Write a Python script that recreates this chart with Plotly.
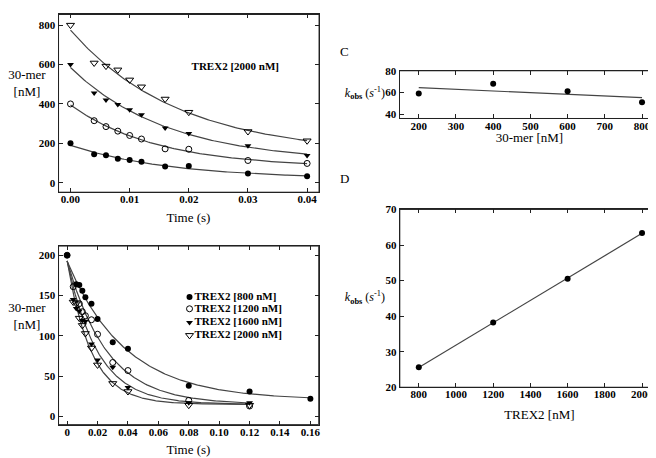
import numpy as np
import plotly.graph_objects as go

W, H = 656, 458

# ---------------- Data ----------------
# Panel A: TREX2 2000 nM, different 30-mer concentrations
timeA = [0.0, 0.004, 0.006, 0.008, 0.010, 0.012, 0.016, 0.020, 0.030, 0.040]
a200 = [200, 145, 140, 122, 115, 107, 83, 85, 47, 33]
a400 = [400, 315, 285, 262, 240, 222, 172, 170, 113, 98]
a600 = [600, 455, 420, 397, 370, 345, 278, 250, 188, 138]
a800 = [800, 608, 592, 573, 522, 487, 425, 358, 260, 213]
# single-exponential fit parameters (amplitude, rate, offset)
fitA_amp = [171, 319, 482, 631]
fitA_k = [59, 68, 61, 55]
fitA_off = [19, 76, 103, 144]

# Panel B: 200 nM 30-mer, different TREX2 concentrations
tB800 = [0.0, 0.006, 0.008, 0.010, 0.012, 0.016, 0.020, 0.030, 0.040, 0.080, 0.120, 0.160]
b800 = [200, 164, 163, 156, 148, 140, 121, 92, 84, 38, 31, 22]
tB1200 = [0.0, 0.004, 0.008, 0.010, 0.012, 0.016, 0.020, 0.030, 0.040, 0.080, 0.120]
b1200 = [200, 161, 140, 130, 125, 120, 102, 67, 57, 20, 13]
tB1600 = [0.004, 0.006, 0.008, 0.010, 0.012, 0.016, 0.020, 0.030, 0.040, 0.080, 0.120]
b1600 = [145, 134, 131, 119, 118, 90, 70, 61, 36, 17, 17]
tB2000 = [0.004, 0.006, 0.008, 0.010, 0.012, 0.016, 0.020, 0.030, 0.040, 0.080, 0.120]
b2000 = [142, 140, 122, 113, 103, 85, 64, 41, 31, 14, 14]
fitB_amp = [172, 178, 178, 178]
fitB_k = [26, 38, 50, 63]
fitB_off = [20.5, 15, 15, 15]
fitB_tmax = [0.16, 0.12, 0.12, 0.12]
legendB = ["TREX2 [800 nM]", "TREX2 [1200 nM]", "TREX2 [1600 nM]", "TREX2 [2000 nM]"]

# Panel C: kobs vs 30-mer
substrateC = [200, 400, 600, 800]
kobsC = [59, 68, 61, 51]

# Panel D: kobs vs TREX2
enzymeD = [800, 1200, 1600, 2000]
kobsD = [25.6, 38.2, 50.5, 63.4]

# tick labels
xA_ticks = [0.0, 0.01, 0.02, 0.03, 0.04]
xA_text = ["0.00", "0.01", "0.02", "0.03", "0.04"]
xB_ticks = [0, 0.02, 0.04, 0.06, 0.08, 0.10, 0.12, 0.14, 0.16]
xB_text = ["0", "0.02", "0.04", "0.06", "0.08", "0.10", "0.12", "0.14", "0.16"]

# ---------------- Styling ----------------
SER = "Liberation Serif"
LINE = "#444444"
FRAME = "#222222"

def px2x(px):
    return px / W

def px2y(py):
    return 1 - py / H

markers = [
    dict(symbol="circle", color="black", size=6),
    dict(symbol="circle-open", color="black", size=6),
    dict(symbol="triangle-down", color="black", size=6),
    dict(symbol="triangle-down-open", color="black", size=7),
]

fig = go.Figure()

# Panel A
seriesA = [a200, a400, a600, a800]
for i, ys in enumerate(seriesA):
    tt = [0.04 * j / 119 for j in range(120)]
    yy = [fitA_amp[i] * float(np.exp(-fitA_k[i] * t)) + fitA_off[i] for t in tt]
    fig.add_trace(go.Scatter(x=tt, y=yy, mode="lines", line=dict(color=LINE, width=1.2),
                             xaxis="x", yaxis="y", showlegend=False))
    fig.add_trace(go.Scatter(x=timeA, y=ys, mode="markers", marker=markers[i],
                             xaxis="x", yaxis="y", showlegend=False))

# Panel B
tBs = [tB800, tB1200, tB1600, tB2000]
bs = [b800, b1200, b1600, b2000]
for i in range(4):
    tt = [fitB_tmax[i] * j / 199 for j in range(200)]
    yy = [fitB_amp[i] * float(np.exp(-fitB_k[i] * t)) + fitB_off[i] for t in tt]
    fig.add_trace(go.Scatter(x=tt, y=yy, mode="lines", line=dict(color=LINE, width=1.2),
                             xaxis="x2", yaxis="y2", showlegend=False))
for i in range(4):
    fig.add_trace(go.Scatter(x=tBs[i], y=bs[i], mode="markers", marker=markers[i],
                             xaxis="x2", yaxis="y2", showlegend=False))

# Panel C
pc = np.polyfit(substrateC, kobsC, 1)
xc = [substrateC[0], substrateC[-1]]
fig.add_trace(go.Scatter(x=xc, y=[float(np.polyval(pc, v)) for v in xc], mode="lines",
                         line=dict(color=LINE, width=1.2), xaxis="x3", yaxis="y3", showlegend=False))
fig.add_trace(go.Scatter(x=substrateC, y=kobsC, mode="markers", marker=markers[0],
                         xaxis="x3", yaxis="y3", showlegend=False))

# Panel D
pd_ = np.polyfit(enzymeD, kobsD, 1)
xd = [enzymeD[0], enzymeD[-1]]
fig.add_trace(go.Scatter(x=xd, y=[float(np.polyval(pd_, v)) for v in xd], mode="lines",
                         line=dict(color=LINE, width=1.2), xaxis="x4", yaxis="y4", showlegend=False))
fig.add_trace(go.Scatter(x=enzymeD, y=kobsD, mode="markers", marker=markers[0],
                         xaxis="x4", yaxis="y4", showlegend=False))

# legend markers for panel B (placed in data coords of panel B)
rows = [290.7, 302.7, 316.7, 330]
leg_x = [0.0805] * 4
leg_y = [(px2y(r) - px2y(421.7)) / (px2y(238.3) - px2y(421.7)) * (211.4 + 10.1) - 10.1 for r in rows]
for i in range(4):
    fig.add_trace(go.Scatter(x=[leg_x[i]], y=[leg_y[i]], mode="markers", marker=markers[i],
                             xaxis="x2", yaxis="y2", showlegend=False))


def ax(domain, rng, dtick, anchor, tickvals=None, ticktext=None, standoff=0):
    d = dict(domain=domain, anchor=anchor, range=rng, dtick=dtick,
             showline=True, linecolor=FRAME, mirror="ticks", ticks="inside", ticklen=4,
             tickcolor=FRAME, showgrid=False, zeroline=False,
             tickfont=dict(family=SER, size=11, color="black", weight="bold"))
    if tickvals is not None:
        d["tickvals"] = tickvals
        d["ticktext"] = ticktext
    if standoff:
        d["ticklabelstandoff"] = standoff
    return d

fig.update_layout(
    width=W, height=H, margin=dict(l=0, r=0, t=0, b=0),
    paper_bgcolor="white", plot_bgcolor="rgba(0,0,0,0)", showlegend=False,
    xaxis=ax([px2x(50.7), px2x(312)], [-0.00202, 0.04202], 0.01, "y", xA_ticks, xA_text, -3),
    yaxis=ax([px2y(183), px2y(0.5)], [-48, 854], 200, "x"),
    xaxis2=ax([px2x(50.7), px2x(311.7)], [-0.00565, 0.1655], 0.02, "y2", xB_ticks, xB_text, -3),
    yaxis2=ax([px2y(421.7), px2y(238.3)], [-10.1, 211.4], 50, "x2"),
    xaxis3=ax([px2x(392.7), px2x(655)], [148.3, 851], 100, "y3", standoff=-3),
    yaxis3=ax([px2y(107.3), px2y(58.3)], [35.9, 80], 20, "x3"),
    xaxis4=ax([px2x(393), px2x(655)], [698, 2102], 200, "y4", standoff=-3),
    yaxis4=ax([px2y(383.3), px2y(200.7)], [20, 70], 10, "x4"),
    # hidden full-page axes used only to place text labels in pixel positions
    xaxis5=dict(domain=[0, 1], range=[0, W], visible=False, anchor="y5", fixedrange=True),
    yaxis5=dict(domain=[0, 1], range=[H, 0], visible=False, anchor="x5", fixedrange=True),
)

# frames drawn as shapes around each panel
for xr, yr in [("x", "y"), ("x2", "y2"), ("x3", "y3"), ("x4", "y4")]:
    fig.add_shape(type="rect", xref=xr + " domain", yref=yr + " domain", x0=0, x1=1, y0=0, y1=1,
                  line=dict(color=FRAME, width=1), fillcolor="rgba(0,0,0,0)", layer="above")


def add_text(xs, ys, texts, size, pos="middle center"):
    fig.add_trace(go.Scatter(x=xs, y=ys, text=texts, mode="text", textposition=pos,
                             textfont=dict(family=SER, size=size, color="black"),
                             xaxis="x5", yaxis="y5", showlegend=False, hoverinfo="skip",
                             cliponaxis=False))

# panel letters
add_text([-2, -2, 333, 333], [6, 243, 40, 170], ["A", "B", "C", "D"], 13, "middle right")
# axis titles
add_text([19, 19], [72, 311], ["30-mer<br>[nM]", "30-mer<br>[nM]"], 13)
add_text([181, 181, 523, 533], [210, 448, 128, 413],
         ["Time (s)", "Time (s)", "30-mer [nM]", "TREX2 [nM]"], 13)
kobs = "<i>k</i><sub><b>obs</b></sub> (<i>s</i><sup>-1</sup>)"
add_text([358, 358], [82, 292], [kobs, kobs], 12)
# panel A inset label
add_text([228], [55], ["<b>TREX2 [2000 nM]</b>"], 11)
# panel B legend labels
add_text([187] * 4, rows, ["<b>" + s + "</b>" for s in legendB], 11, "middle right")

fig.write_html("out.html")
